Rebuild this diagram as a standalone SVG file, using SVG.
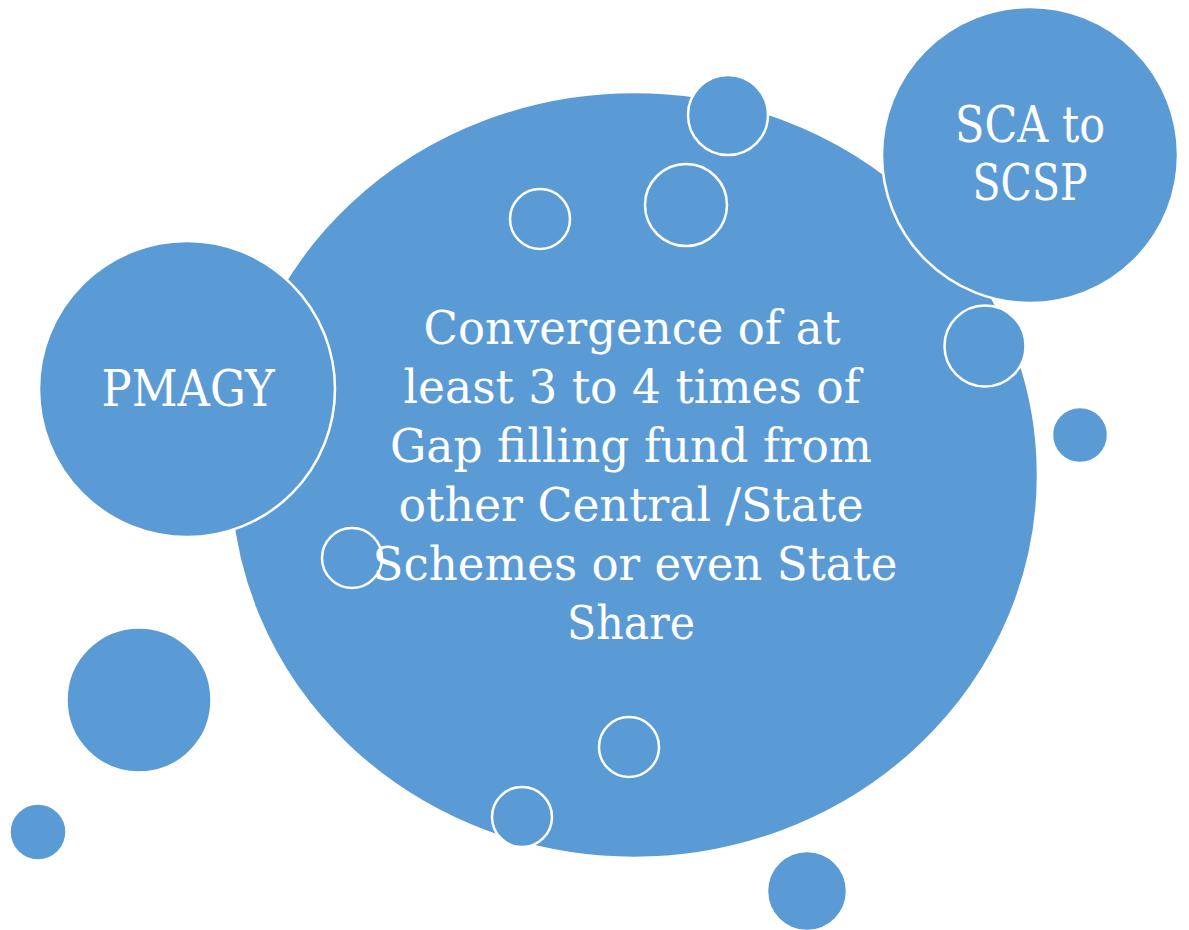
<svg xmlns="http://www.w3.org/2000/svg" width="1189" height="930" viewBox="0 0 1189 930">
<style>
.b{fill:#5B9BD5;stroke:#FFFFFF;stroke-width:2.5}
.t{fill:#FFFFFF;font-family:"DejaVu Serif","Liberation Serif",serif;text-anchor:middle}
.m{font-size:47px}
.s{font-size:51px}
</style>
<rect width="1189" height="930" fill="#FFFFFF"/>
<g id="main">
<ellipse class="b" cx="634" cy="475" rx="404" ry="383"/>
</g>
<g id="pmagy">
<circle class="b" cx="187" cy="389" r="148"/>
<text class="t s" x="188" y="406" textLength="173" lengthAdjust="spacingAndGlyphs">PMAGY</text>
</g>
<g id="sca">
<circle class="b" cx="1030" cy="155" r="148"/>
<text class="t s" x="1030" y="142" textLength="150" lengthAdjust="spacingAndGlyphs">SCA to</text>
<text class="t s" x="1030" y="200" textLength="115" lengthAdjust="spacingAndGlyphs">SCSP</text>
</g>
<g id="bubbles">
<circle id="b1" class="b" cx="728" cy="115" r="40"/>
<circle id="b2" class="b" cx="686" cy="205" r="41"/>
<circle id="b3" class="b" cx="540" cy="219" r="30"/>
<circle id="b4" class="b" cx="985" cy="346" r="40.5"/>
<circle id="b5" class="b" cx="1080" cy="435" r="28"/>
<circle id="b6" class="b" cx="352" cy="558" r="30"/>
<circle id="b7" class="b" cx="139" cy="700" r="72.5"/>
<circle id="b8" class="b" cx="38" cy="832" r="28.5"/>
<circle id="b9" class="b" cx="629" cy="747" r="30"/>
<circle id="b10" class="b" cx="522" cy="817" r="30"/>
<circle id="b11" class="b" cx="807" cy="891" r="40"/>
</g>
<g id="main-label">
<text class="t m" x="632" y="344" textLength="417" lengthAdjust="spacingAndGlyphs">Convergence of at</text>
<text class="t m" x="632" y="403" textLength="457" lengthAdjust="spacingAndGlyphs">least 3 to 4 times of</text>
<text class="t m" x="631" y="462" textLength="482" lengthAdjust="spacingAndGlyphs">Gap filling fund from</text>
<text class="t m" x="631" y="521" textLength="465" lengthAdjust="spacingAndGlyphs">other Central /State</text>
<text class="t m" x="635" y="580" textLength="525" lengthAdjust="spacingAndGlyphs">Schemes or even State</text>
<text class="t m" x="631" y="639" textLength="128" lengthAdjust="spacingAndGlyphs">Share</text>
</g>
</svg>
